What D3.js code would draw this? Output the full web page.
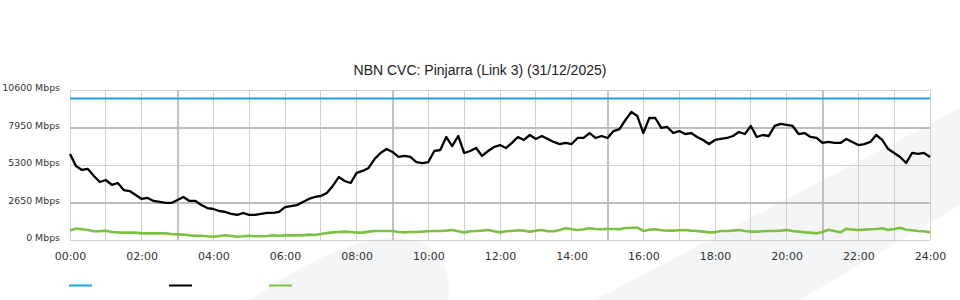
<!DOCTYPE html>
<html>
<head>
<meta charset="utf-8">
<script src="https://cdn.jsdelivr.net/npm/d3@7"></script>
<style>
  body { margin: 0; background: #fff; }
  svg { display: block; }
</style>
</head>
<body>
<svg class="svgChart"></svg>
<script>
// chart values (Mbps), one sample every 10 minutes from 00:00 to 24:00
const title = 'NBN CVC: Pinjarra (Link 3) (31/12/2025)';
const yTicks = [0, 2650, 5300, 7950, 10600];
const xTicks = [0, 2, 4, 6, 8, 10, 12, 14, 16, 18, 20, 22, 24];
const sampleMinutes = 10;
const capacity = [10000, 10000];

const download = [
  6080, 5230, 4950, 5020, 4520, 4100, 4240, 3890, 4030, 3530, 3460, 3180,
  2900, 2970, 2760, 2690, 2620, 2620, 2830, 3040, 2760, 2760, 2470, 2260,
  2190, 2050, 1980, 1840, 1770, 1910, 1770, 1770, 1840, 1910, 1910, 1980,
  2330, 2400, 2470, 2690, 2900, 3040, 3110, 3320, 3820, 4450, 4170, 4030,
  4740, 4880, 5090, 5720, 6150, 6430, 6220, 5870, 5940, 5870, 5510, 5440,
  5510, 6290, 6360, 7280, 6640, 7350, 6150, 6290, 6500, 5940, 6290, 6570,
  6710, 6500, 6860, 7280, 7070, 7420, 7140, 7350, 7140, 6930, 6780, 6860,
  6780, 7210, 7210, 7560, 7210, 7350, 7210, 7700, 7840, 8480, 9050, 8760,
  7560, 8620, 8620, 7920, 7990, 7560, 7700, 7490, 7560, 7280, 7070, 6780,
  7070, 7140, 7210, 7350, 7630, 7490, 8060, 7280, 7420, 7350, 8060, 8200,
  8130, 8060, 7490, 7560, 7280, 7210, 6860, 6930, 6860, 6860, 7140, 6930,
  6710, 6780, 6930, 7420, 7070, 6430, 6150, 5870, 5440, 6150, 6080, 6150,
  5870
];

const upload = [
  670, 810, 760, 710, 620, 620, 660, 570, 540, 520, 520, 520,
  470, 470, 470, 470, 470, 420, 400, 380, 330, 300, 300, 260,
  230, 280, 330, 280, 230, 260, 300, 260, 260, 280, 330, 300,
  330, 330, 330, 330, 380, 350, 420, 500, 540, 570, 590, 570,
  520, 520, 590, 640, 640, 640, 640, 570, 540, 570, 570, 590,
  620, 640, 640, 660, 710, 620, 540, 620, 640, 660, 710, 620,
  540, 620, 640, 690, 660, 590, 660, 710, 620, 620, 710, 830,
  760, 710, 760, 830, 780, 760, 780, 780, 760, 850, 870, 870,
  640, 730, 760, 690, 660, 660, 690, 710, 660, 640, 590, 540,
  540, 640, 640, 660, 710, 640, 590, 590, 620, 640, 640, 660,
  710, 640, 590, 540, 520, 470, 570, 730, 640, 540, 800, 730,
  710, 730, 760, 780, 830, 710, 780, 870, 730, 690, 640, 620,
  540
];

const colors = { capacity: '#1fa3e0', download: '#000000', upload: '#7cc242' };

const width = 960;
const height = 300;
const margin = { top: 90, right: 30, bottom: 60, left: 70 };

const svg = d3.select('.svgChart')
  .attr('width', width)
  .attr('height', height);

// faint watermark shapes behind the chart
const bg = svg.append('g').attr('class', 'watermark').attr('fill', '#f4f5f7');
bg.append('path')
  .attr('d', 'M250,300 C290,272 350,236 398,238 C440,240 452,268 448,300 Z');
bg.append('path')
  .attr('d', 'M595,300 L960,108 L960,205 L800,300 Z');

const xScale = d3.scaleLinear()
  .domain([0, 24])
  .range([margin.left, width - margin.right]);

const yScale = d3.scaleLinear()
  .domain([0, 10600])
  .range([height - margin.bottom, margin.top]);

const toHour = i => i * sampleMinutes / 60;

// heavier lines sit on whole pixels, light ones on half pixels
const snap = (v, heavy) => heavy ? Math.round(v) : Math.floor(v) + 0.5;
const heavyHour = d => d % 6 === 3;

// grid
const grid = svg.append('g').attr('class', 'grid');
grid.selectAll('.vline')
  .data(d3.range(0, 25))
  .enter()
  .append('line')
    .attr('x1', d => snap(xScale(d), heavyHour(d)))
    .attr('x2', d => snap(xScale(d), heavyHour(d)))
    .attr('y1', yScale(10600))
    .attr('y2', yScale(0))
    .attr('stroke', d => heavyHour(d) ? '#c2c2c2' : '#d0d0d0')
    .attr('stroke-width', d => heavyHour(d) ? 2 : 1);

grid.selectAll('.hline')
  .data(yTicks)
  .enter()
  .append('line')
    .attr('x1', xScale(0))
    .attr('x2', xScale(24))
    .attr('y1', (d, i) => snap(yScale(d), i % 2))
    .attr('y2', (d, i) => snap(yScale(d), i % 2))
    .attr('stroke', (d, i) => i % 2 ? '#bdbdbd' : '#d0d0d0')
    .attr('stroke-width', (d, i) => i % 2 ? 2 : 1);

// y axis labels
const yAxis = d3.axisLeft(yScale)
  .tickValues(yTicks)
  .tickSize(0)
  .tickPadding(10)
  .tickFormat(d => d + ' Mbps');
svg.append('g')
  .attr('class', 'yAxis')
  .attr('transform', `translate(${margin.left},0)`)
  .call(yAxis)
  .call(g => g.select('.domain').remove())
  .selectAll('text')
    .attr('font-family', 'DejaVu Sans, sans-serif')
    .attr('font-size', 9.4)
    .attr('fill', '#333')
    .attr('dy', '0.1em');

// x axis labels
const xAxis = d3.axisBottom(xScale)
  .tickValues(xTicks)
  .tickSize(0)
  .tickPadding(12)
  .tickFormat(d => d3.format('02d')(d) + ':00');
svg.append('g')
  .attr('class', 'xAxis')
  .attr('transform', `translate(0,${yScale(0)})`)
  .call(xAxis)
  .call(g => g.select('.domain').remove())
  .selectAll('text')
    .attr('font-family', 'DejaVu Sans, sans-serif')
    .attr('font-size', 11)
    .attr('fill', '#333');

// series
const line = d3.line()
  .x((d, i) => xScale(toHour(i)))
  .y(d => yScale(d));

svg.append('line')
  .attr('x1', xScale(0))
  .attr('x2', xScale(24))
  .attr('y1', yScale(capacity[0]))
  .attr('y2', yScale(capacity[1]))
  .attr('stroke', colors.capacity)
  .attr('stroke-width', 2.2);

svg.append('path')
  .datum(upload)
  .attr('fill', 'none')
  .attr('stroke', colors.upload)
  .attr('stroke-width', 2.6)
  .attr('stroke-linejoin', 'round')
  .attr('d', line);

svg.append('path')
  .datum(download)
  .attr('fill', 'none')
  .attr('stroke', colors.download)
  .attr('stroke-width', 2.3)
  .attr('stroke-linejoin', 'round')
  .attr('d', line);

// title
svg.append('text')
  .attr('x', 480)
  .attr('y', 75)
  .attr('text-anchor', 'middle')
  .attr('font-family', 'Liberation Sans, Arial, sans-serif')
  .attr('font-size', 14)
  .attr('fill', '#222')
  .text(title);

// legend swatches (no labels in the original)
svg.append('g')
  .attr('class', 'legend')
  .selectAll('line')
  .data([colors.capacity, colors.download, colors.upload])
  .enter()
  .append('line')
    .attr('x1', (d, i) => 69 + i * 100)
    .attr('x2', (d, i) => 92 + i * 100)
    .attr('y1', 285.5)
    .attr('y2', 285.5)
    .attr('stroke', d => d)
    .attr('stroke-width', 2);
</script>
</body>
</html>
